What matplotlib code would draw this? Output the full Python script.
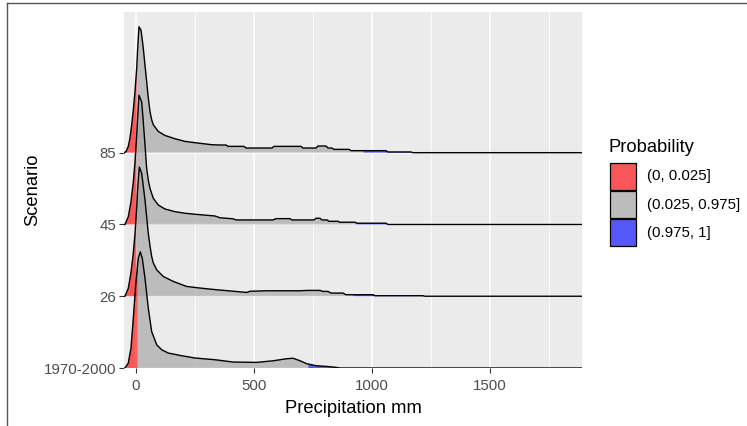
import numpy as np
import matplotlib
matplotlib.use("Agg")
import matplotlib.pyplot as plt
from matplotlib.patches import Rectangle
from matplotlib.lines import Line2D

plt.rcParams['font.family'] = ['Liberation Sans', 'DejaVu Sans']

# Scenarios, bottom to top
scenarios = ["1970-2000", "26", "45", "85"]

# Ridge profiles: precipitation (mm) and ridge height (in row units)
x_1970 = [-50.8, -46.6, -32.6, -21.2, -11.4, -1.3, 9.7, 18.2, 26.7, 38.1, 52.1, 66.5, 87.7,
          108.9, 136.9, 193.6, 250.0, 334.7, 412.3, 511.4, 581.8, 638.6, 665.3, 694.9,
          723.3, 762.7, 808.1, 850.4, 864.4, 1889.8]
h_1970 = [0.0, 0.0, 0.069, 0.278, 0.694, 1.157, 1.528, 1.619, 1.528, 1.25, 0.833, 0.508, 0.324,
          0.254, 0.208, 0.171, 0.139, 0.115, 0.083, 0.078, 0.101, 0.129, 0.136, 0.101,
          0.06, 0.032, 0.022, 0.008, 0.0, 0.0]

x_26 = [-50.8, -46.6, -32.6, -21.2, -11.4, -4.2, 3.0, 7.6, 14.0, 24.2, 30.9, 38.1, 45.3, 52.1,
        59.3, 66.5, 73.3, 87.7, 115.7, 158.1, 214.8, 271.2, 341.9, 469.1, 483.0, 553.8,
        694.9, 724.6, 779.7, 792.4, 813.6, 826.3, 877.1, 889.8, 1004.2, 1012.7, 1216.1,
        1224.6, 1889.8]
h_26 = [0.0, 0.0, 0.11, 0.33, 0.60, 0.87, 1.24, 1.52, 1.80, 1.711, 1.535, 1.34, 1.104, 0.878,
        0.701, 0.553, 0.465, 0.368, 0.275, 0.206, 0.136, 0.114, 0.09, 0.053, 0.069, 0.076,
        0.076, 0.081, 0.081, 0.067, 0.067, 0.044, 0.044, 0.021, 0.021, 0.007, 0.007,
        0.0, 0.0]

x_45 = [-50.8, -46.6, -32.6, -21.2, -11.4, -4.2, 3.0, 7.6, 12.7, 24.2, 29.7, 35.2, 40.3, 45.3,
        52.1, 59.3, 73.3, 94.5, 122.9, 165.3, 207.6, 250.0, 334.7, 355.9, 411.0, 423.7,
        580.5, 593.2, 652.5, 661.0, 754.2, 762.7, 779.7, 788.0, 809.3, 817.8, 855.9, 864.4,
        927.9, 936.4, 1059.3, 1067.8, 1889.8]
h_45 = [0.0, 0.0, 0.108, 0.317, 0.594, 0.872, 1.243, 1.52, 1.80, 1.706, 1.479, 1.243, 1.007,
        0.781, 0.618, 0.503, 0.364, 0.271, 0.215, 0.178, 0.156, 0.142, 0.118, 0.093, 0.079,
        0.063, 0.063, 0.081, 0.081, 0.063, 0.063, 0.086, 0.086, 0.063, 0.063, 0.044, 0.044,
        0.031, 0.031, 0.017, 0.017, 0.0, 0.0]

x_85 = [-50.8, -42.4, -32.6, -25.4, -18.2, -11.4, -4.2, 3.0, 7.2, 12.7, 21.2, 26.7, 30.9, 38.1,
        45.3, 52.1, 59.3, 66.5, 73.3, 94.5, 122.9, 165.3, 207.6, 250.0, 320.8, 355.9, 381.4,
        389.8, 457.6, 466.1, 576.3, 584.7, 699.2, 707.6, 762.7, 771.2, 805.1, 813.6, 830.5,
        838.9, 902.5, 911.0, 1059.3, 1067.8, 1165.3, 1173.7, 1889.8]
h_85 = [0.0, 0.014, 0.088, 0.204, 0.389, 0.597, 0.851, 1.176, 1.454, 1.754, 1.708, 1.57, 1.454,
        1.222, 0.99, 0.764, 0.574, 0.458, 0.389, 0.296, 0.24, 0.194, 0.157, 0.139, 0.111,
        0.107, 0.107, 0.088, 0.088, 0.065, 0.065, 0.088, 0.088, 0.065, 0.065, 0.093, 0.093,
        0.065, 0.065, 0.046, 0.046, 0.028, 0.028, 0.01, 0.01, 0.0, 0.0]

# 2.5% and 97.5% quantiles (mm) per scenario
q_low = [7.2, 1.0, 2.0, 3.0]
q_high = [730.0, 920.8, 933.5, 963.5]

prob_labels = ["(0, 0.025]", "(0.025, 0.975]", "(0.975, 1]"]
prob_colors = ["#FF0000", "#A0A0A0", "#0000FF"]
fill_alpha = 160 / 255

profiles = [(x_1970, h_1970), (x_26, h_26), (x_45, h_45), (x_85, h_85)]

W, H = 747, 426
fig = plt.figure(figsize=(W / 100, H / 100), dpi=100)
fig.patch.set_facecolor("white")

pl, pr, pt, pb = 124, 582, 12, 368
ax = fig.add_axes([pl / W, 1 - pb / H, (pr - pl) / W, (pb - pt) / H])
ax.set_facecolor("#EBEBEB")
for s in ax.spines.values():
    s.set_visible(False)

xlim = (-50.8, 1889.8)
ylim = (1.0, 5.96)
ax.set_xlim(*xlim)
ax.set_ylim(*ylim)

# grid
for xv in [250, 750, 1250, 1750]:
    ax.axvline(xv, color="white", lw=0.55, zorder=0)
for xv in [0, 500, 1000, 1500]:
    ax.axvline(xv, color="white", lw=1.1, zorder=0)
for yv in range(1, 5):
    ax.axhline(yv, color="white", lw=1.1, zorder=0)

# ridges, drawn from top row down so lower rows sit in front
for i in reversed(range(len(scenarios))):
    xs = np.asarray(profiles[i][0], dtype=float)
    hs = np.asarray(profiles[i][1], dtype=float)
    base = i + 1
    bounds = [xs[0], q_low[i], q_high[i], xs[-1]]
    z = 10 + (4 - i) * 2
    for k in range(3):
        a, b = bounds[k], bounds[k + 1]
        inside = (xs > a) & (xs < b)
        sx = np.concatenate([[a], xs[inside], [b]])
        sh = np.interp(sx, xs, hs)
        ax.fill_between(sx, base, base + sh, facecolor=prob_colors[k],
                        alpha=fill_alpha, lw=0, zorder=z)
    ax.plot(xs, base + hs, color="black", lw=1.0, zorder=z + 1,
            solid_joinstyle="round")

ax.set_xticks([0, 500, 1000, 1500])
ax.set_xticklabels(["0", "500", "1000", "1500"])
ax.set_yticks(range(1, 5))
ax.set_yticklabels(scenarios)
ax.tick_params(axis="both", length=3.3, width=0.8, color="#333333",
               labelcolor="#4D4D4D", labelsize=10.8)
ax.tick_params(axis="x", pad=4.8)
ax.tick_params(axis="y", pad=2.4)
ax.set_xlabel("Precipitation mm", fontsize=13.2, color="black", labelpad=5)
ax.set_ylabel("Scenario", fontsize=13.2, color="black", labelpad=2)

# legend
fig.text(609 / W, 1 - 147 / H, "Probability", fontsize=13.2, va="center", ha="left")
key_tops = [163, 191, 219]
for k in range(3):
    y0 = key_tops[k]
    bg = Rectangle((610 / W, 1 - (y0 + 27) / H), 26 / W, 27 / H,
                   transform=fig.transFigure, facecolor="#EBEBEB", lw=0)
    fig.add_artist(bg)
    rect = Rectangle((610 / W, 1 - (y0 + 27) / H), 26 / W, 27 / H,
                     transform=fig.transFigure,
                     facecolor=matplotlib.colors.to_rgba(prob_colors[k], fill_alpha),
                     edgecolor="black", lw=0.9)
    fig.add_artist(rect)
    fig.text(647 / W, 1 - (y0 + 13.5) / H, prob_labels[k], fontsize=10.8,
             va="center", ha="left")

# outer frame edges
fig.add_artist(Line2D([7 / W, 7 / W], [0, 1 - 3 / H], transform=fig.transFigure,
                      color="#555555", lw=1))
fig.add_artist(Line2D([7 / W, 1], [1 - 3 / H, 1 - 3 / H], transform=fig.transFigure,
                      color="#555555", lw=1))

fig.savefig("out.png", dpi=100)
